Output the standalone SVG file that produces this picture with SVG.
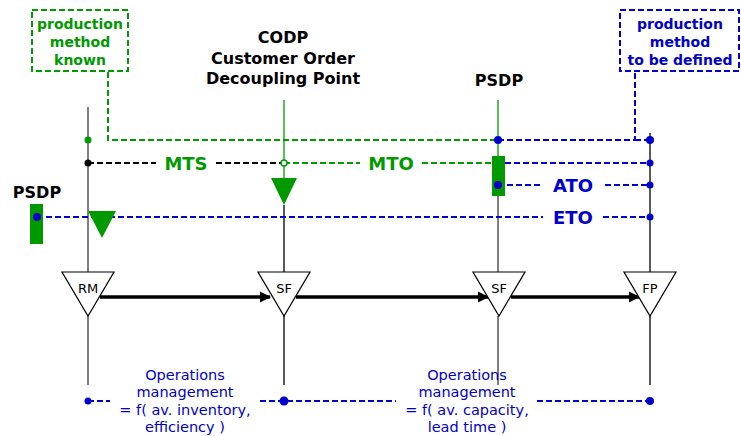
<svg xmlns="http://www.w3.org/2000/svg" width="741" height="436" viewBox="0 0 741 436">
<style>
text{font-family:"Comic Sans MS","DejaVu Sans",sans-serif}
.g{fill:#009900}.b{fill:#0000cc}
.gd{stroke:#009900;stroke-width:2;stroke-dasharray:6,3;fill:none}
.bd{stroke:#0000cc;stroke-width:2;stroke-dasharray:6,3;fill:none}
.kd{stroke:#000;stroke-width:2;stroke-dasharray:6,3;fill:none}
.ax{stroke:#555;stroke-width:1.5;fill:none}
.tri{fill:#fff;stroke:#000;stroke-width:1.2}
.flow{stroke:#000;stroke-width:3.5;fill:none;marker-end:url(#ah)}
.hd{font-weight:bold;font-size:16px;text-anchor:middle}
.bx{font-weight:bold;font-size:14px;text-anchor:middle}
.lab{font-weight:bold;font-size:18px;text-anchor:middle}
.op{font-size:14.5px;text-anchor:middle;fill:#0000cc}
</style>
<defs>
<marker id="ah" viewBox="0 0 10 10" refX="9" refY="5" markerWidth="4" markerHeight="3.2" orient="auto" markerUnits="strokeWidth">
<path d="M0,0 L10,5 L0,10 z" fill="#000"/>
</marker>
</defs>
<g id="axes">
<line class="ax" x1="88" y1="107" x2="88" y2="272"/>
<line class="ax" x1="88" y1="316" x2="88" y2="385"/>
<line stroke="#22aa22" stroke-width="1.5" x1="284" y1="100" x2="284" y2="178"/>
<line stroke="#222" stroke-width="1.5" x1="284" y1="205" x2="284" y2="272"/>
<line stroke="#222" stroke-width="1.5" x1="284" y1="316" x2="284" y2="385"/>
<line stroke="#22aa22" stroke-width="1.5" x1="498" y1="100" x2="498" y2="156"/>
<line class="ax" x1="498" y1="196" x2="498" y2="272"/>
<line class="ax" x1="498" y1="316" x2="498" y2="385"/>
<line stroke="#222" stroke-width="1.5" x1="650" y1="133" x2="650" y2="272"/>
<line stroke="#222" stroke-width="1.5" x1="650" y1="316" x2="650" y2="385"/>
</g>
<g id="connectors">
<polyline class="gd" points="108,72 108,140 498,140"/>
<polyline class="bd" points="498,140 635,140 635,72"/>
<line class="bd" x1="635" y1="140" x2="650" y2="140"/>
<line class="kd" x1="88" y1="163" x2="156" y2="163"/>
<line class="kd" x1="216" y1="163" x2="284" y2="163"/>
<line class="gd" x1="284" y1="163" x2="360" y2="163"/>
<line class="gd" x1="422" y1="163" x2="492" y2="163"/>
<line class="bd" x1="505" y1="163" x2="650" y2="163"/>
<line class="bd" x1="498" y1="185" x2="541" y2="185"/>
<line class="bd" x1="605" y1="185" x2="650" y2="185"/>
<line class="bd" x1="37" y1="217" x2="543" y2="217"/>
<line class="bd" x1="603" y1="217" x2="650" y2="217"/>
<line class="bd" x1="88" y1="401" x2="110" y2="401"/>
<line class="bd" x1="260" y1="401" x2="396" y2="401"/>
<line class="bd" x1="537" y1="401" x2="650" y2="401"/>
<path class="flow" d="M100,297 L270,297"/>
<path class="flow" d="M296,297 L488,297"/>
<path class="flow" d="M511,297 L639,297"/>
</g>
<g id="dots">
<circle cx="88" cy="140" r="3.5" fill="#009900"/>
<circle cx="498" cy="140" r="4" fill="#0000cc"/>
<circle cx="650" cy="140" r="4" fill="#0000cc"/>
<circle cx="88" cy="163" r="3.5" fill="#000"/>
<circle cx="284" cy="163" r="3" fill="#fff" stroke="#009900" stroke-width="1.5"/>
<circle cx="650" cy="163" r="3.5" fill="#0000cc"/>
<circle cx="650" cy="185" r="3.5" fill="#0000cc"/>
<circle cx="650" cy="217" r="3.5" fill="#0000cc"/>
<circle cx="88" cy="401" r="3.5" fill="#0000cc"/>
<circle cx="284" cy="401" r="4.5" fill="#0000cc"/>
<circle cx="650" cy="401" r="4" fill="#0000cc"/>
</g>
<g id="box-known">
<rect x="32" y="10" width="96" height="61" fill="#fff" class="gd"/>
<text class="bx g" x="80" y="29">production</text>
<text class="bx g" x="80" y="47">method</text>
<text class="bx g" x="80" y="65">known</text>
</g>
<g id="box-defined">
<rect x="620" y="10" width="119" height="61" fill="#fff" class="bd"/>
<text class="bx b" x="680" y="29">production</text>
<text class="bx b" x="680" y="47">method</text>
<text class="bx b" x="680" y="65">to be defined</text>
</g>
<g id="codp">
<text class="hd" x="283" y="43">CODP</text>
<text class="hd" x="283" y="64">Customer Order</text>
<text class="hd" x="283" y="84">Decoupling Point</text>
<polygon points="271,178 297,178 284,205" fill="#009900"/>
</g>
<g id="psdp-right">
<text class="hd" x="499" y="86">PSDP</text>
<rect x="492" y="156" width="13" height="40" fill="#009900"/>
<circle cx="498" cy="185" r="4" fill="#0000cc"/>
</g>
<g id="psdp-left">
<text class="hd" x="37" y="198">PSDP</text>
<rect x="30" y="204" width="13" height="40" fill="#009900"/>
<circle cx="37" cy="217" r="4" fill="#0000cc"/>
<polygon points="88,211 116,211 102,238" fill="#009900"/>
</g>
<g id="labels">
<text class="lab g" x="186" y="170">MTS</text>
<text class="lab g" x="391" y="170">MTO</text>
<text class="lab b" x="573" y="192">ATO</text>
<text class="lab b" x="573" y="224">ETO</text>
</g>
<g id="node-rm">
<polygon class="tri" points="62,272 114,272 88,316"/>
<text x="88" y="293" font-size="13" text-anchor="middle">RM</text>
</g>
<g id="node-sf1">
<polygon class="tri" points="258,272 310,272 284,316"/>
<text x="284" y="293" font-size="13" text-anchor="middle">SF</text>
</g>
<g id="node-sf2">
<polygon class="tri" points="473,272 525,272 499,316"/>
<text x="499" y="293" font-size="13" text-anchor="middle">SF</text>
</g>
<g id="node-fp">
<polygon class="tri" points="624,272 676,272 650,316"/>
<text x="650" y="293" font-size="13" text-anchor="middle">FP</text>
</g>
<g id="ops1">
<text class="op" x="185" y="380">Operations</text>
<text class="op" x="185" y="397">management</text>
<text class="op" x="185" y="415">= f( av. inventory,</text>
<text class="op" x="185" y="432">efficiency )</text>
</g>
<g id="ops2">
<text class="op" x="467" y="380">Operations</text>
<text class="op" x="467" y="397">management</text>
<text class="op" x="467" y="415">= f( av. capacity,</text>
<text class="op" x="467" y="432">lead time )</text>
</g>
</svg>
